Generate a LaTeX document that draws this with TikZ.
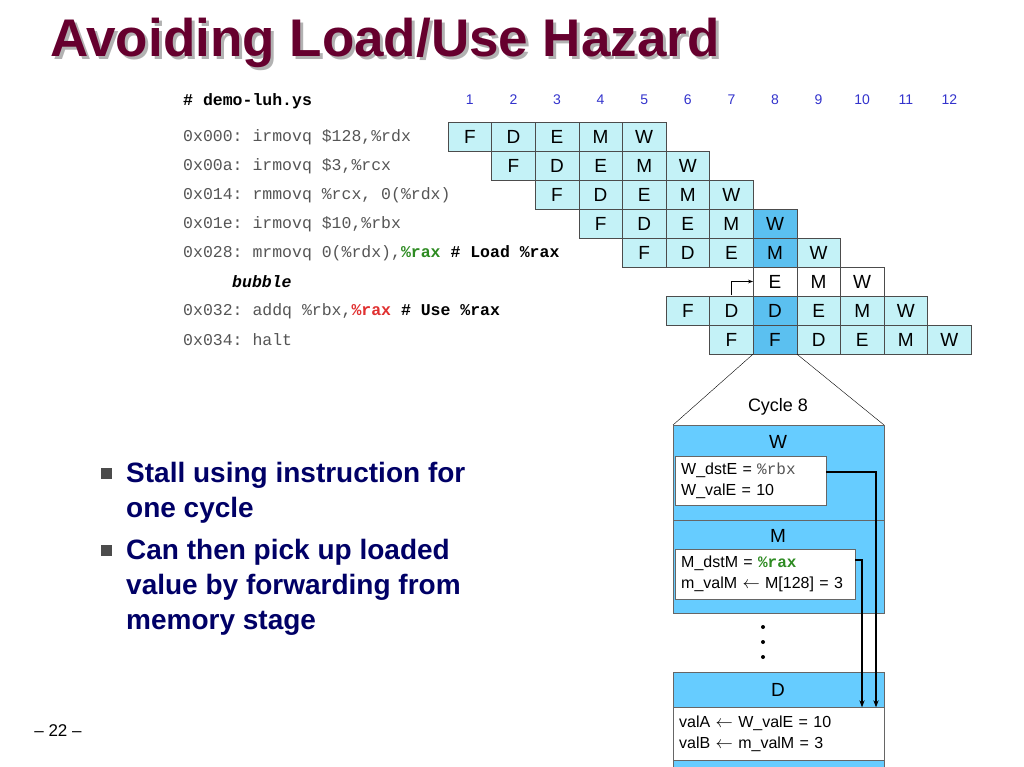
\documentclass[tikz,border=0pt]{standalone}
\usepackage{fontspec}
\setmainfont{Liberation Sans}
\setmonofont{Liberation Mono}
\usepackage{tikz}
\usetikzlibrary{arrows.meta}
\definecolor{lite}{HTML}{C4F2F7}
\definecolor{dark}{HTML}{5BC0F0}
\definecolor{stage}{HTML}{66CCFF}
\definecolor{titlec}{HTML}{66002E}
\definecolor{navy}{HTML}{000066}
\definecolor{codec}{HTML}{555555}
\definecolor{greenc}{HTML}{2E8B22}
\definecolor{redc}{HTML}{E03030}
\definecolor{cyc}{HTML}{3333CC}

\newcommand{\cellw}{43.6}
\tikzset{
  cell/.style={draw=black!70, fill=lite, minimum width=43.6pt, minimum height=29pt,
    inner sep=0pt, font=\fontsize{19}{20}\selectfont},
  code/.style={anchor=west, inner sep=0pt, font=\fontsize{16.5}{18}\ttfamily, text=codec},
  bullet/.style={anchor=west, inner sep=0pt, align=left, text=navy,
    font=\fontsize{28}{35}\selectfont\bfseries},
  reg/.style={anchor=west, draw=black!60, fill=white, inner xsep=6pt, inner ysep=0pt,
    font=\fontsize{16}{21}\selectfont, align=left},
  fwd/.style={very thick, -{Stealth[length=7pt]}}
}

\begin{document}
\begin{tikzpicture}[x=1pt, y=-1pt]
    \useasboundingbox (0,0) rectangle (1024,767);

    % title
    \node[anchor=west, inner sep=0pt, text=gray!60, font=\fontsize{53}{56}\selectfont\bfseries] (shadow) at (53,46) {Avoiding Load/Use Hazard};
    \node[anchor=west, inner sep=0pt, text=titlec, font=\fontsize{53}{56}\selectfont\bfseries] (title) at (50,43) {Avoiding Load/Use Hazard};

    % program
    \node[code, text=black, font=\fontsize{16.5}{18}\ttfamily\bfseries] (hdr) at (183,101) {\# demo-luh.ys};
    \node[code] (p1) at (183,137) {0x000: irmovq \$128,\%rdx};
    \node[code] (p2) at (183,166) {0x00a: irmovq  \$3,\%rcx};
    \node[code] (p3) at (183,195) {0x014: rmmovq \%rcx, 0(\%rdx)};
    \node[code] (p4) at (183,224) {0x01e: irmovq \$10,\%rbx};
    \node[code] (p5) at (183,253) {0x028: mrmovq 0(\%rdx),\textcolor{greenc}{\textbf{\%rax}} \textcolor{black}{\textbf{\# Load \%rax}}};
    \node[code, text=black, font=\fontsize{16.5}{18}\ttfamily\bfseries\itshape] (pb) at (232,282) {bubble};
    \node[code] (p7) at (183,311) {0x032: addq \%rbx,\textcolor{redc}{\textbf{\%rax}} \textcolor{black}{\textbf{\# Use \%rax}}};
    \node[code] (p8) at (183,340) {0x034: halt};

    % cycle numbers
    \foreach \c in {1,...,12}
        \node[text=cyc, font=\fontsize{14}{16}\selectfont] (n\c) at ({448+\cellw*(\c-0.5)},100) {\c};

    % pipeline cells: row/first cycle/stages
    \foreach \r/\s/\stages in {1/1/{F,D,E,M,W}, 2/2/{F,D,E,M,W}, 3/3/{F,D,E,M,W},
                               4/4/{F,D,E,M,W}, 5/5/{F,D,E,M,W}, 7/6/{F,D,D,E,M,W},
                               8/7/{F,F,D,E,M,W}}
        \foreach \st [count=\i from 0] in \stages
            \node[cell] (c\r-\i) at ({448+\cellw*(\s+\i-0.5)},{136.5+29*(\r-1)}) {\st};
    \foreach \st [count=\i from 0] in {E,M,W}
        \node[cell, fill=white] (c6-\i) at ({448+\cellw*(7.5+\i)},281.5) {\st};

    % cycle 8 highlight
    \node[cell, fill=dark] (h4) at (c4-4) {W};
    \node[cell, fill=dark] (h5) at (c5-3) {M};
    \node[cell, fill=dark] (h7) at (c7-2) {D};
    \node[cell, fill=dark] (h8) at (c8-1) {F};

    % stall arrow
    \coordinate (st) at ([xshift=-22pt,yshift=1pt]c6-0.south west);
    \draw[thick, -{Stealth[length=5pt]}] (st) |- (c6-0.west);

    % cycle 8 zoom
    \coordinate (zl) at (673,425);
    \coordinate (zr) at (884,425);
    \draw (h8.south west) -- (zl);
    \draw (h8.south east) -- (zr);
    \node[font=\fontsize{18}{20}\selectfont] (cyc8) at (778,407) {Cycle 8};

    \draw[draw=black!60, fill=stage] (673,425) rectangle (884,520);
    \node[font=\fontsize{19}{20}\selectfont] (sW) at (778,442) {W};
    \node[reg, text width=139pt, minimum height=49pt] (bW) at (675,481)
        {W\_dstE = {\ttfamily\textcolor{codec}{\%rbx}}\\W\_valE = 10};
    \draw[draw=black!60, fill=stage] (673,520) rectangle (884,613);
    \node[font=\fontsize{19}{20}\selectfont] (sM) at (778,536) {M};
    \node[reg, text width=168pt, minimum height=50pt] (bM) at (675,574)
        {M\_dstM = {\ttfamily\bfseries\textcolor{greenc}{\%rax}}\\m\_valM $\leftarrow$ M[128] = 3};
    \foreach \y in {627,642,657}
        \fill (763,\y) circle (2pt);
    \draw[draw=black!60, fill=stage] (673,672) rectangle (884,767);
    \node[font=\fontsize{19}{20}\selectfont] (sD) at (778,690) {D};
    \node[reg, text width=199pt, minimum height=53pt] (bD) at (673,734)
        {valA $\leftarrow$ W\_valE = 10\\valB $\leftarrow$ m\_valM = 3};

    \draw[fwd] ([yshift=9pt]bW.east) -| (bD.north -| 876,0);
    \draw[fwd] ([yshift=14pt]bM.east) -| (bD.north -| 862,0);

    % bullets
    \fill[black!70] (101,468) rectangle ++(11,11);
    \fill[black!70] (101,545) rectangle ++(11,11);
    \node[bullet] (b1) at (126,493) {Stall using instruction for\\one cycle};
    \node[bullet] (b2) at (126,587) {Can then pick up loaded\\value by forwarding from\\memory stage};

    \node[font=\fontsize{17}{20}\selectfont] (page) at (58,731) {-- 22 --};
\end{tikzpicture}
\end{document}
